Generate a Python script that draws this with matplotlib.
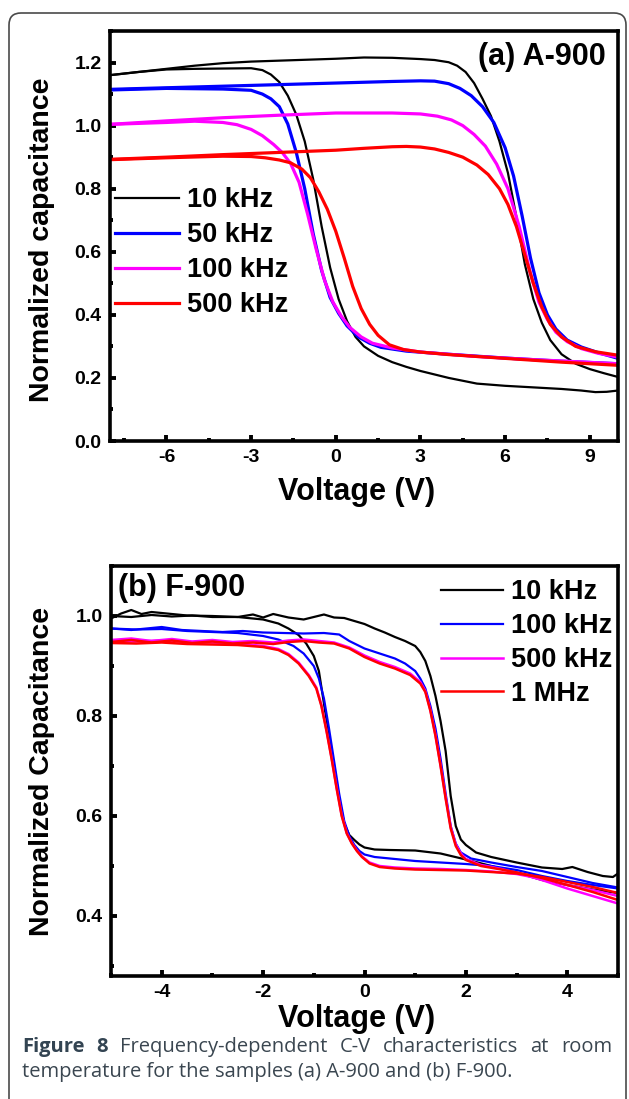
import matplotlib
matplotlib.use("Agg")
import matplotlib.pyplot as plt
from matplotlib.patches import FancyBboxPatch
from matplotlib.transforms import IdentityTransform
from matplotlib.ticker import MultipleLocator

# ---------------- (a) A-900 ----------------
a_labels = ["10 kHz", "50 kHz", "100 kHz", "500 kHz"]
a_colors = ["black", "#0000ff", "#ff00ff", "#ff0000"]

a10_up_v = [-8, -7, -6, -5, -4, -3, -2, -1, 0, 1, 2, 3, 3.5, 4, 4.3, 4.6, 4.9, 5.2, 5.5, 5.8, 6.1, 6.4, 6.7, 7.0, 7.3, 7.6, 8.0, 8.5, 9.0, 9.5, 10]
a10_up_c = [1.160, 1.170, 1.180, 1.190, 1.198, 1.203, 1.206, 1.209, 1.212, 1.216, 1.215, 1.211, 1.208, 1.201, 1.190, 1.170, 1.135, 1.085, 1.03, 0.95, 0.85, 0.71, 0.56, 0.45, 0.375, 0.32, 0.275, 0.245, 0.228, 0.215, 0.203]
a10_dn_v = [-8, -7, -6, -5, -4, -3, -2.6, -2.3, -2.0, -1.7, -1.4, -1.1, -0.8, -0.5, -0.2, 0.1, 0.4, 0.7, 1.0, 1.5, 2, 2.5, 3, 4, 5, 6, 7, 8, 8.7, 9.2, 9.6, 10]
a10_dn_c = [1.160, 1.170, 1.178, 1.180, 1.181, 1.182, 1.176, 1.162, 1.138, 1.095, 1.035, 0.95, 0.83, 0.68, 0.55, 0.45, 0.38, 0.33, 0.30, 0.27, 0.25, 0.235, 0.222, 0.200, 0.182, 0.175, 0.170, 0.165, 0.160, 0.155, 0.156, 0.160]

a50_up_v = [-8, -6, -4, -2, 0, 2, 3, 3.5, 4.0, 4.4, 4.8, 5.2, 5.6, 6.0, 6.3, 6.6, 6.9, 7.2, 7.5, 7.8, 8.2, 8.7, 9.3, 10]
a50_up_c = [1.115, 1.120, 1.125, 1.130, 1.135, 1.140, 1.142, 1.141, 1.133, 1.118, 1.095, 1.060, 1.010, 0.93, 0.84, 0.715, 0.58, 0.47, 0.40, 0.355, 0.32, 0.298, 0.28, 0.262]
a50_dn_v = [-8, -6, -4, -3, -2.6, -2.3, -2.0, -1.7, -1.4, -1.1, -0.8, -0.5, -0.2, 0.1, 0.4, 0.8, 1.2, 1.6, 2.5, 4, 6, 8, 10]
a50_dn_c = [1.113, 1.118, 1.116, 1.112, 1.100, 1.085, 1.060, 1.005, 0.915, 0.80, 0.657, 0.54, 0.455, 0.405, 0.365, 0.33, 0.31, 0.297, 0.285, 0.275, 0.263, 0.253, 0.245]

a100_up_v = [-8, -6, -4, -2, 0, 2, 3, 3.6, 4.1, 4.5, 4.9, 5.3, 5.7, 6.1, 6.5, 6.9, 7.2, 7.5, 7.8, 8.2, 8.7, 9.3, 10]
a100_up_c = [1.004, 1.015, 1.025, 1.033, 1.040, 1.040, 1.037, 1.030, 1.018, 1.000, 0.972, 0.935, 0.878, 0.80, 0.68, 0.53, 0.44, 0.385, 0.345, 0.315, 0.293, 0.278, 0.266]
a100_dn_v = [-8, -6, -5, -4, -3.5, -3.0, -2.6, -2.2, -1.9, -1.6, -1.3, -1.0, -0.7, -0.4, -0.1, 0.2, 0.5, 0.9, 1.3, 2, 3, 5, 7, 10]
a100_dn_c = [1.004, 1.010, 1.014, 1.010, 1.003, 0.988, 0.968, 0.940, 0.915, 0.88, 0.82, 0.72, 0.61, 0.51, 0.44, 0.395, 0.36, 0.33, 0.31, 0.295, 0.282, 0.268, 0.258, 0.245]

a500_up_v = [-8, -6, -4, -2, 0, 1, 2, 2.5, 3, 3.5, 4, 4.5, 5, 5.4, 5.8, 6.1, 6.4, 6.7, 7.0, 7.3, 7.6, 8.0, 8.5, 9.2, 10]
a500_up_c = [0.893, 0.900, 0.908, 0.915, 0.922, 0.928, 0.933, 0.934, 0.932, 0.926, 0.915, 0.900, 0.875, 0.845, 0.80, 0.75, 0.68, 0.59, 0.50, 0.425, 0.37, 0.33, 0.30, 0.283, 0.272]
a500_dn_v = [-8, -6, -4, -3, -2.5, -2, -1.6, -1.2, -0.9, -0.6, -0.3, 0, 0.3, 0.6, 0.9, 1.2, 1.5, 1.9, 2.4, 3, 4, 6, 8, 10]
a500_dn_c = [0.892, 0.898, 0.903, 0.902, 0.898, 0.891, 0.882, 0.862, 0.835, 0.79, 0.735, 0.665, 0.58, 0.49, 0.42, 0.37, 0.335, 0.305, 0.29, 0.282, 0.274, 0.262, 0.250, 0.240]

# ---------------- (b) F-900 ----------------
b_labels = ["10 kHz", "100 kHz", "500 kHz", "1 MHz"]
b_colors = ["black", "#0000ff", "#ff00ff", "#ff0000"]

b10_up_v = [-5, -4.8, -4.6, -4.4, -4.2, -4.0, -3.5, -3.0, -2.5, -2.2, -2.0, -1.8, -1.5, -1.2, -1.0, -0.8, -0.6, -0.4, -0.2, 0, 0.2, 0.4, 0.6, 0.8, 1.0, 1.1, 1.2, 1.3, 1.4, 1.5, 1.6, 1.7, 1.8, 1.9, 2.0, 2.2, 2.5, 3.0, 3.5, 3.9, 4.1, 4.4, 4.7, 4.9, 5.0]
b10_up_c = [0.995, 1.005, 1.012, 1.004, 1.008, 1.006, 1.001, 1.000, 0.998, 1.003, 0.997, 1.004, 0.997, 0.993, 0.998, 1.003, 0.997, 0.996, 0.990, 0.984, 0.975, 0.967, 0.958, 0.950, 0.940, 0.928, 0.910, 0.88, 0.84, 0.79, 0.73, 0.64, 0.58, 0.553, 0.542, 0.527, 0.518, 0.507, 0.497, 0.494, 0.498, 0.488, 0.48, 0.478, 0.485]
b10_dn_v = [-5, -4.6, -4.2, -3.8, -3.4, -3.0, -2.5, -2.0, -1.7, -1.5, -1.3, -1.15, -1.0, -0.9, -0.8, -0.7, -0.6, -0.5, -0.4, -0.3, -0.2, -0.1, 0, 0.2, 0.5, 1.0, 1.5, 2.0, 2.5, 3.0, 3.5, 4.0, 4.5, 5.0]
b10_dn_c = [1.0, 0.998, 1.002, 0.999, 1.001, 0.998, 0.998, 0.993, 0.985, 0.975, 0.962, 0.945, 0.92, 0.89, 0.825, 0.76, 0.70, 0.635, 0.585, 0.562, 0.552, 0.543, 0.537, 0.533, 0.532, 0.531, 0.525, 0.513, 0.500, 0.487, 0.472, 0.462, 0.453, 0.446]

b100_up_v = [-5, -4.6, -4.2, -4.0, -3.6, -3.2, -2.8, -2.4, -2.0, -1.6, -1.2, -0.8, -0.5, -0.3, 0, 0.3, 0.6, 0.8, 1.0, 1.1, 1.2, 1.3, 1.4, 1.5, 1.6, 1.7, 1.8, 1.9, 2.1, 2.5, 3.0, 3.5, 4.0, 4.5, 5.0]
b100_up_c = [0.975, 0.972, 0.976, 0.978, 0.972, 0.970, 0.968, 0.970, 0.967, 0.966, 0.965, 0.966, 0.963, 0.950, 0.935, 0.925, 0.915, 0.905, 0.89, 0.875, 0.855, 0.82, 0.775, 0.715, 0.645, 0.58, 0.545, 0.527, 0.515, 0.507, 0.498, 0.49, 0.478, 0.466, 0.457]
b100_dn_v = [-5, -4.5, -4.0, -3.5, -3.0, -2.5, -2.0, -1.7, -1.4, -1.2, -1.0, -0.9, -0.8, -0.7, -0.6, -0.5, -0.4, -0.3, -0.2, -0.1, 0.0, 0.2, 0.5, 1.0, 1.5, 2.0, 2.5, 3.0, 3.5, 4.0, 4.5, 5.0]
b100_dn_c = [0.975, 0.973, 0.974, 0.970, 0.968, 0.966, 0.960, 0.953, 0.94, 0.925, 0.90, 0.875, 0.835, 0.775, 0.71, 0.645, 0.59, 0.56, 0.542, 0.530, 0.523, 0.518, 0.515, 0.510, 0.507, 0.504, 0.500, 0.492, 0.48, 0.47, 0.462, 0.455]

b_hi_up_v = [-5, -4.6, -4.2, -3.8, -3.4, -3.0, -2.6, -2.2, -1.8, -1.5, -1.2, -0.9, -0.6, -0.3, 0, 0.3, 0.6, 0.9, 1.1, 1.2, 1.3, 1.4, 1.5, 1.6, 1.7, 1.8, 1.9, 2.0, 2.3, 2.7, 3.1, 3.5, 4.0, 4.5, 5.0]
b500_up_c = [0.952, 0.955, 0.950, 0.954, 0.949, 0.952, 0.948, 0.950, 0.947, 0.951, 0.953, 0.950, 0.947, 0.937, 0.921, 0.908, 0.898, 0.885, 0.868, 0.85, 0.812, 0.762, 0.702, 0.638, 0.578, 0.543, 0.525, 0.514, 0.502, 0.494, 0.484, 0.472, 0.455, 0.44, 0.425]
b1m_up_c = [0.948, 0.952, 0.947, 0.951, 0.946, 0.949, 0.945, 0.947, 0.944, 0.948, 0.950, 0.947, 0.945, 0.935, 0.918, 0.905, 0.895, 0.882, 0.865, 0.848, 0.81, 0.76, 0.70, 0.635, 0.575, 0.54, 0.522, 0.512, 0.500, 0.493, 0.485, 0.476, 0.462, 0.448, 0.432]
b_hi_dn_v = [-5, -4.5, -4.0, -3.5, -3.0, -2.5, -2.0, -1.7, -1.5, -1.3, -1.1, -0.95, -0.85, -0.75, -0.65, -0.55, -0.45, -0.35, -0.25, -0.15, -0.05, 0.1, 0.3, 0.6, 1.0, 1.5, 2.0, 2.5, 3.0, 3.5, 4.0, 4.5, 5.0]
b500_dn_c = [0.950, 0.949, 0.951, 0.948, 0.947, 0.945, 0.940, 0.934, 0.924, 0.907, 0.882, 0.857, 0.822, 0.772, 0.717, 0.657, 0.602, 0.566, 0.546, 0.531, 0.519, 0.507, 0.500, 0.497, 0.495, 0.494, 0.492, 0.489, 0.484, 0.474, 0.462, 0.452, 0.44]
b1m_dn_c = [0.946, 0.945, 0.947, 0.944, 0.943, 0.942, 0.938, 0.932, 0.922, 0.905, 0.88, 0.855, 0.82, 0.77, 0.715, 0.655, 0.60, 0.565, 0.545, 0.53, 0.518, 0.505, 0.498, 0.495, 0.493, 0.492, 0.491, 0.488, 0.485, 0.478, 0.468, 0.458, 0.446]

caption_line1 = [("Figure", True), ("8", True), ("Frequency-dependent", False), ("C-V", False),
                 ("characteristics", False), ("at", False), ("room", False)]
caption_line2 = "temperature for the samples (a) A-900 and (b) F-900."

plt.rcParams["font.family"] = ["Liberation Sans", "DejaVu Sans"]
plt.rcParams["font.weight"] = "bold"
plt.rcParams["axes.unicode_minus"] = False

W, H = 629, 1099
fig = plt.figure(figsize=(W / 100, H / 100), dpi=100)

# rounded frame around the figure
frame = FancyBboxPatch((9, -20), 617, H - 13 + 20, boxstyle="round,pad=0,rounding_size=12",
                       transform=IdentityTransform(), fill=False, edgecolor="#4a4a4a", lw=1.2)
fig.patches.append(frame)


def px_axes(left, top, right, bottom):
    return fig.add_axes([left / W, 1 - bottom / H, (right - left) / W, (bottom - top) / H])


def style(ax):
    for s in ax.spines.values():
        s.set_linewidth(2.6)
    ax.tick_params(which="major", direction="in", length=4.5, width=2.8, labelsize=14, pad=6)
    ax.tick_params(which="minor", direction="in", length=2.5, width=2.8)
    ax.tick_params(which="both", top=False, right=False)
    for lab in ax.get_xticklabels() + ax.get_yticklabels():
        lab.set_fontweight("bold")


# ---- panel (a)
ax1 = px_axes(110, 31, 618, 441)
a_up = [(a10_up_v, a10_up_c), (a50_up_v, a50_up_c), (a100_up_v, a100_up_c), (a500_up_v, a500_up_c)]
a_dn = [(a10_dn_v, a10_dn_c), (a50_dn_v, a50_dn_c), (a100_dn_v, a100_dn_c), (a500_dn_v, a500_dn_c)]
a_lw = [1.6, 2.3, 2.3, 2.3]
for (uv, uc), (dv, dc), col, lab, lw in zip(a_up, a_dn, a_colors, a_labels, a_lw):
    ax1.plot(uv, uc, color=col, lw=lw, label=lab)
    ax1.plot(dv, dc, color=col, lw=lw)
ax1.set_xlim(-8, 10)
ax1.set_ylim(0, 1.3)
ax1.set_xticks([-6, -3, 0, 3, 6, 9])
ax1.xaxis.set_minor_locator(MultipleLocator(1.5))
ax1.set_yticks([0, 0.2, 0.4, 0.6, 0.8, 1.0, 1.2])
ax1.set_yticklabels(["0.0", "0.2", "0.4", "0.6", "0.8", "1.0", "1.2"])
ax1.yaxis.set_minor_locator(MultipleLocator(0.1))
style(ax1)
ax1.set_xlabel("Voltage (V)", fontsize=22, fontweight="bold", va="center")
ax1.xaxis.set_label_coords(0.485, -0.124)
ax1.set_ylabel("Normalized capacitance", fontsize=20.5, fontweight="bold", va="center")
ax1.yaxis.set_label_coords(-0.134, 0.49)
ax1.text(0.976, 0.937, "(a) A-900", transform=ax1.transAxes, ha="right", va="center",
         fontsize=22, fontweight="bold")
ax1.legend(loc="center left", bbox_to_anchor=(0.01, 0.459), frameon=False,
           handlelength=2.36, handletextpad=0.3, labelspacing=0.33, borderpad=0, borderaxespad=0,
           prop={"weight": "bold", "size": 19.5})

# ---- panel (b)
ax2 = px_axes(111, 566, 618, 976)
b_curves = [
    ("black", 1.6, (b10_up_v, b10_up_c), (b10_dn_v, b10_dn_c), b_labels[0]),
    ("#0000ff", 1.6, (b100_up_v, b100_up_c), (b100_dn_v, b100_dn_c), b_labels[1]),
    ("#ff00ff", 1.8, (b_hi_up_v, b500_up_c), (b_hi_dn_v, b500_dn_c), b_labels[2]),
    ("#ff0000", 1.8, (b_hi_up_v, b1m_up_c), (b_hi_dn_v, b1m_dn_c), b_labels[3]),
]
for col, lw, (uv, uc), (dv, dc), lab in b_curves:
    ax2.plot(uv, uc, color=col, lw=lw, label=lab)
    ax2.plot(dv, dc, color=col, lw=lw)
ax2.set_xlim(-5, 5)
ax2.set_ylim(0.28, 1.1)
ax2.set_xticks([-4, -2, 0, 2, 4])
ax2.xaxis.set_minor_locator(MultipleLocator(1))
ax2.set_yticks([0.4, 0.6, 0.8, 1.0])
ax2.set_yticklabels(["0.4", "0.6", "0.8", "1.0"])
ax2.yaxis.set_minor_locator(MultipleLocator(0.1))
style(ax2)
ax2.set_xlabel("Voltage (V)", fontsize=22, fontweight="bold", va="center")
ax2.xaxis.set_label_coords(0.485, -0.105)
ax2.set_ylabel("Normalized Capacitance", fontsize=20.5, fontweight="bold", va="center")
ax2.yaxis.set_label_coords(-0.136, 0.5)
ax2.text(0.014, 0.946, "(b) F-900", transform=ax2.transAxes, ha="left", va="center",
         fontsize=22, fontweight="bold")
ax2.legend(loc="center left", bbox_to_anchor=(0.650, 0.812), frameon=False,
           handlelength=2.3, handletextpad=0.3, labelspacing=0.29, borderpad=0, borderaxespad=0,
           prop={"weight": "bold", "size": 19.5})

# ---- caption: size fitted to the second line, first line justified
cap_font = ["Open Sans", "DejaVu Sans"]
cap_col_b = "#334452"
cap_col = "#3a4650"
renderer = fig.canvas.get_renderer()
x0, x1 = 22, 612
line2 = fig.text(x0 / W, 1 - 1072 / H, caption_line2, family=cap_font, fontsize=12,
                 fontweight="normal", color=cap_col, va="center", ha="left")
cap_size = 12 * 490 / line2.get_window_extent(renderer).width
line2.set_fontsize(cap_size)
texts = []
for word, bold in caption_line1:
    t = fig.text(0, 1 - 1047 / H, word, family=cap_font, fontsize=cap_size,
                 fontweight="bold" if bold else "normal", color=cap_col_b if bold else cap_col,
                 va="center", ha="left")
    texts.append(t)
widths = [t.get_window_extent(renderer).width for t in texts]
gap = (x1 - x0 - sum(widths)) / (len(texts) - 1)
x = x0
for t, w in zip(texts, widths):
    t.set_x(x / W)
    x += w + gap

fig.savefig("out.png", dpi=100)
